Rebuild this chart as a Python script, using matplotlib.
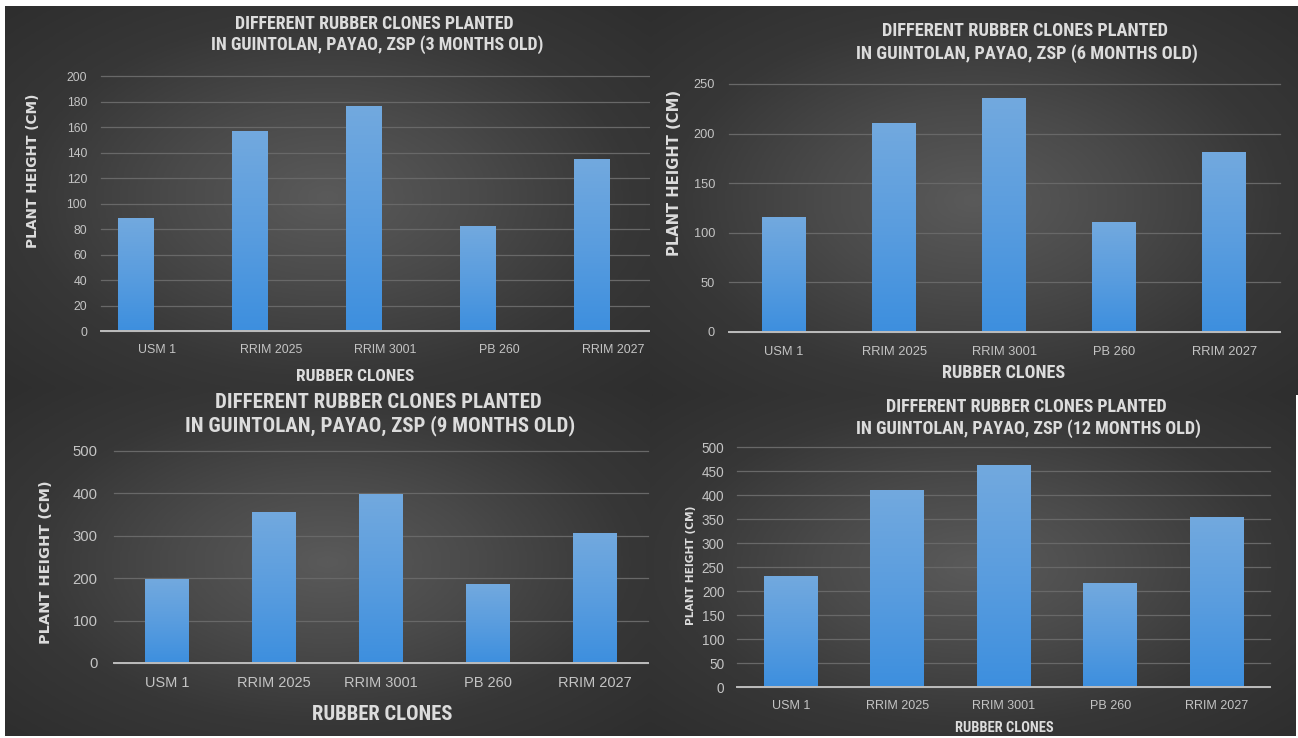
import numpy as np
import matplotlib
matplotlib.use("Agg")
import matplotlib.pyplot as plt
from matplotlib.colors import LinearSegmentedColormap
from matplotlib import font_manager as fm

# ---------------- data ----------------
clones = ["USM 1", "RRIM 2025", "RRIM 3001", "PB 260", "RRIM 2027"]
height_3m = [88, 157, 176, 82, 135]
height_6m = [115, 210, 235, 110, 181]
height_9m = [198, 355, 397, 184, 306]
height_12m = [231, 410, 462, 216, 354]
title_line1 = "DIFFERENT RUBBER CLONES PLANTED"
title_line2 = ["IN GUINTOLAN, PAYAO, ZSP (3 MONTHS OLD)",
               "IN GUINTOLAN, PAYAO, ZSP (6 MONTHS OLD)",
               "IN GUINTOLAN, PAYAO, ZSP (9 MONTHS OLD)",
               "IN GUINTOLAN, PAYAO, ZSP (12 MONTHS OLD)"]
y_ticks_3m = list(range(0, 201, 20))
y_ticks_6m = list(range(0, 251, 50))
y_ticks_9m = list(range(0, 501, 100))
y_ticks_12m = list(range(0, 501, 50))
x_label = "RUBBER CLONES"
y_label = "PLANT HEIGHT (CM)"

# ---------------- layout (pixels) ----------------
W, H = 1298, 738
fig = plt.figure(figsize=(W / 100, H / 100), dpi=100, facecolor="white")
renderer = fig.canvas.get_renderer()


def frac(x0, y0, x1, y1):
    return [x0 / W, 1 - y1 / H, (x1 - x0) / W, (y1 - y0) / H]


def has_font(name):
    try:
        fm.findfont(fm.FontProperties(family=name), fallback_to_default=False)
        return True
    except Exception:
        return False


narrow = "Liberation Sans"
for cand in ["Liberation Sans Narrow", "Roboto Condensed", "Roboto", "Lato"]:
    if has_font(cand):
        narrow = cand
        break
regular = "Liberation Sans"
wide = "DejaVu Sans"


def fit_size(s, target, family, weight="normal", rotation=0, base=10.0):
    t = fig.text(0, 0, s, fontsize=base, family=family, weight=weight, rotation=rotation)
    bb = t.get_window_extent(renderer)
    t.remove()
    L = bb.height if rotation else bb.width
    return base * target / L


def text_h(s, size, family, weight="normal"):
    t = fig.text(0, 0, s, fontsize=size, family=family, weight=weight)
    bb = t.get_window_extent(renderer)
    t.remove()
    return bb.height


bg_cmap = LinearSegmentedColormap.from_list("bg", ["#5a5a5a", "#4a4a4a", "#373737", "#2e2e2e"])
bar_cmap = LinearSegmentedColormap.from_list("bar", ["#72a9de", "#5a9ddf", "#3d8fde"])

panels = [
    dict(values=height_3m, ticks=y_ticks_3m, t2=title_line2[0],
         bg=(5, 6, 650, 388), ax=(100.5, 76.3, 652, 331.0),
         first=157.5, spacing=113.9, bar_w=35.2, bar_off=-21.7,
         t1xy=(374.3, 24.2), t2xy=(377.3, 45.0), t2w=332,
         ylxy=(33, 170.8), ylen=155, xlxy=(355.5, 377), xlw=118,
         xtw=63, xtc=350, ytw=20.7, ytpad=13.5),
    dict(values=height_6m, ticks=y_ticks_6m, t2=title_line2[1],
         bg=(650, 6, 1298, 395), ax=(729, 84.0, 1280, 332.0),
         first=784.0, spacing=110.1, bar_w=44.0, bar_off=0.0,
         t1xy=(1025, 30.8), t2xy=(1026.9, 53.3), t2w=342.6,
         ylxy=(674.8, 173.3), ylen=166.7, xlxy=(1003.3, 373.3), xlw=123.3,
         xtw=65.4, xtc=352, ytw=21.5, ytpad=14),
    dict(values=height_9m, ticks=y_ticks_9m, t2=title_line2[2],
         bg=(5, 388, 650, 736), ax=(113.5, 451.0, 648, 663.0),
         first=167.0, spacing=106.9, bar_w=44.0, bar_off=0.0,
         t1xy=(377.9, 402.5), t2xy=(380.4, 425.3), t2w=387.6,
         ylxy=(46.4, 561.7), ylen=163.3, xlxy=(381.8, 715), xlw=140,
         xtw=73.8, xtc=683, ytw=24.9, ytpad=16),
    dict(values=height_12m, ticks=y_ticks_12m, t2=title_line2[3],
         bg=(650, 395, 1296, 736), ax=(737.4, 447.3, 1270, 687.3),
         first=790.7, spacing=106.5, bar_w=54.0, bar_off=0.0,
         t1xy=(1025.9, 407.5), t2xy=(1028.2, 428.7), t2w=342.6,
         ylxy=(690.5, 565), ylen=120, xlxy=(1004.4, 728.3), xlw=98,
         xtw=63.3, xtc=706, ytw=22.8, ytpad=13),
]

title_color = "#dcdcdc"
tick_color = "#c4c4c4"

for p in panels:
    # background with radial gradient
    bg = fig.add_axes(frac(*p["bg"]))
    bg.axis("off")
    yy, xx = np.mgrid[-1:1:240j, -1:1:360j]
    r = np.clip(np.sqrt(xx ** 2 + yy ** 2) / np.sqrt(2), 0, 1)
    bg.imshow(r, cmap=bg_cmap, vmin=0, vmax=1, extent=[0, 1, 0, 1],
              aspect="auto", interpolation="bilinear")
    bg.set_xlim(0, 1)
    bg.set_ylim(0, 1)

    x0, y0, x1, y1 = p["ax"]
    ax = fig.add_axes(frac(x0, y0, x1, y1))
    ax.set_facecolor("none")
    for s in ax.spines.values():
        s.set_visible(False)

    xs = np.arange(len(clones))
    bw = p["bar_w"] / p["spacing"]
    off = p["bar_off"] / p["spacing"]
    bars = ax.bar(xs + off, p["values"], width=bw, color="#5b9bd5", zorder=2)
    grad = np.linspace(0, 1, 200).reshape(-1, 1)
    for b in bars:
        bx, bwid, bh = b.get_x(), b.get_width(), b.get_height()
        ax.imshow(grad, cmap=bar_cmap, extent=[bx, bx + bwid, 0, bh],
                  aspect="auto", zorder=3, interpolation="bilinear")

    ticks = p["ticks"]
    ax.set_ylim(0, ticks[-1])
    ax.set_xlim(-(p["first"] - x0) / p["spacing"], (x1 - p["first"]) / p["spacing"])
    ax.set_yticks(ticks)
    ax.set_xticks(xs)

    ytsize = fit_size(str(ticks[-1]), p["ytw"], regular)
    xtsize = fit_size("RRIM 2025", p["xtw"], regular)
    xth = text_h("RRIM 2025", xtsize, regular)
    xpad_px = (p["xtc"] - y1) - xth / 2
    ax.set_xticklabels(clones, fontsize=xtsize, family=regular, color=tick_color)
    ax.set_yticklabels([str(t) for t in ticks], fontsize=ytsize, family=regular, color=tick_color)
    ax.tick_params(axis="x", length=0, pad=xpad_px * 0.72)
    ax.tick_params(axis="y", length=0, pad=p["ytpad"] * 0.72)

    ax.set_axisbelow(True)
    ax.yaxis.grid(True, color="#686868", linewidth=0.9, zorder=0)
    ax.xaxis.grid(False)
    for gl in ax.yaxis.get_gridlines():
        gl.set_clip_on(False)
    ax.axhline(0, color="#bdbdbd", linewidth=1.4, zorder=4, clip_on=False)

    # titles
    tsize = fit_size(p["t2"], p["t2w"], narrow, weight="bold")
    fig.text(p["t1xy"][0] / W, 1 - p["t1xy"][1] / H, title_line1, fontsize=tsize,
             family=narrow, weight="bold", color=title_color, ha="center", va="center")
    fig.text(p["t2xy"][0] / W, 1 - p["t2xy"][1] / H, p["t2"], fontsize=tsize,
             family=narrow, weight="bold", color=title_color, ha="center", va="center")

    # axis titles
    ylsize = fit_size(y_label, p["ylen"], wide, weight="bold", rotation=90)
    fig.text(p["ylxy"][0] / W, 1 - p["ylxy"][1] / H, y_label, fontsize=ylsize,
             family=wide, weight="bold", color=title_color, rotation=90,
             ha="center", va="center")
    xlsize = fit_size(x_label, p["xlw"], narrow, weight="bold")
    fig.text(p["xlxy"][0] / W, 1 - p["xlxy"][1] / H, x_label, fontsize=xlsize,
             family=narrow, weight="bold", color=title_color, ha="center", va="center")

fig.savefig("out.png", dpi=100, facecolor="white")
